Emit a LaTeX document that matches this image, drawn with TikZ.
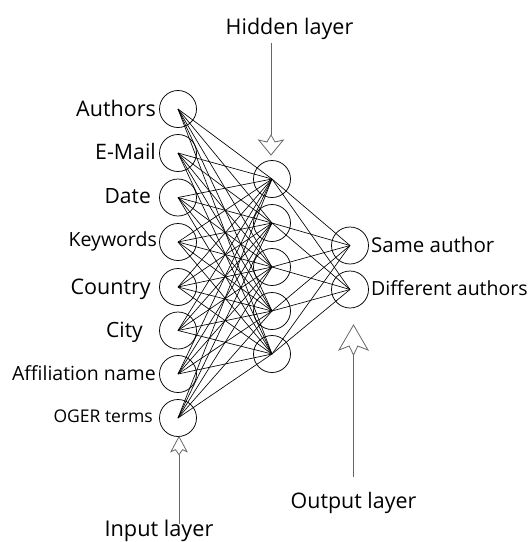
\documentclass[tikz,border=0pt]{standalone}
\usepackage{fontspec}
\setmainfont{Open Sans}
\begin{document}
\begin{tikzpicture}[x=1pt,y=-1pt,
  neuron/.style={circle,draw=black,line width=0.75pt,minimum size=37pt,inner sep=0pt},
  conn/.style={line width=0.65pt,black},
  lab/.style={inner sep=0pt},
  arr/.style={draw=black!60,line width=0.8pt,line join=miter}]
\useasboundingbox (0,0) rectangle (530,542);
% input layer
\node[neuron] (i1) at (178,109) {};
\node[neuron] (i2) at (178,153) {};
\node[neuron] (i3) at (178,197.5) {};
\node[neuron] (i4) at (178,242) {};
\node[neuron] (i5) at (178,287) {};
\node[neuron] (i6) at (178,330.5) {};
\node[neuron] (i7) at (178,374) {};
\node[neuron] (i8) at (178,418) {};
% hidden layer
\node[neuron] (h1) at (272,179) {};
\node[neuron] (h2) at (272,223) {};
\node[neuron] (h3) at (272,267) {};
\node[neuron] (h4) at (272,311) {};
\node[neuron] (h5) at (272,354) {};
% output layer
\node[neuron] (o1) at (350,245.5) {};
\node[neuron] (o2) at (350,289.5) {};
% connections
\foreach \i in {1,...,8}{\foreach \h in {1,...,5}{\draw[conn] (i\i.center) -- (h\h.center);}}
\foreach \h in {1,...,5}{\foreach \o in {1,2}{\draw[conn] (h\h.center) -- (o\o.center);}}
% input labels
\node[lab,anchor=base east,font=\fontsize{21.5}{24}\selectfont] (l1) at (156,116) {Authors};
\node[lab,anchor=base east,font=\fontsize{21.3}{24}\selectfont] (l2) at (156,159.3) {E-Mail};
\node[lab,anchor=base east,font=\fontsize{21}{24}\selectfont] (l3) at (151,203.3) {Date};
\node[lab,anchor=base east,font=\fontsize{19.5}{22}\selectfont] (l4) at (157,246.7) {Keywords};
\node[lab,anchor=base east,font=\fontsize{21.5}{24}\selectfont] (l5) at (151,294.3) {Country};
\node[lab,anchor=base east,font=\fontsize{21}{24}\selectfont] (l6) at (143,337.7) {City};
\node[lab,anchor=base east,font=\fontsize{19.5}{22}\selectfont] (l7) at (156,380.7) {Affiliation name};
\node[lab,anchor=base east,font=\fontsize{17.5}{20}\selectfont] (l8) at (153,422.7) {OGER terms};
% output labels
\node[lab,anchor=base west,font=\fontsize{20.5}{23}\selectfont] (m1) at (371,252.3) {Same author};
\node[lab,anchor=base west,font=\fontsize{19.5}{22}\selectfont] (m2) at (371,295.7) {Different authors};
% titles
\node[lab,anchor=base,font=\fontsize{21.5}{24}\selectfont] (th) at (289.5,34) {Hidden layer};
\node[lab,anchor=base,font=\fontsize{21.4}{24}\selectfont] (to) at (353.5,508) {Output layer};
\node[lab,anchor=base,font=\fontsize{21.7}{24}\selectfont] (ti) at (159,536.5) {Input layer};
% hidden arrow
\coordinate (hs) at (271,43);
\coordinate (ht) at (271,155);
\coordinate (hj) at (271,135);
\draw[arr] (hs) -- (hj);
\draw[arr] (ht) -- ++(12.3,-15) -- ++(-8.3,2) -- ++(-4,-7) -- ++(-4,7) -- ++(-8.3,-2) -- cycle;
% input arrow
\coordinate (is) at (179,524);
\coordinate (it) at (179,436.7);
\coordinate (ij) at (179,454.7);
\draw[arr] (is) -- (ij);
\draw[arr] (it) -- ++(8,15) -- ++(-4.5,-2) -- ++(-3.5,5) -- ++(-3.5,-5) -- ++(-4.5,2) -- cycle;
% output arrow
\coordinate (os) at (353.5,477);
\coordinate (ot) at (353.5,325);
\coordinate (oj) at (353.5,355);
\draw[arr] (os) -- (oj);
\draw[arr] (ot) -- ++(14.5,25) -- ++(-10.2,-4) -- ++(-4.3,9) -- ++(-4.3,-9) -- ++(-10.2,4) -- cycle;
\end{tikzpicture}
\end{document}
